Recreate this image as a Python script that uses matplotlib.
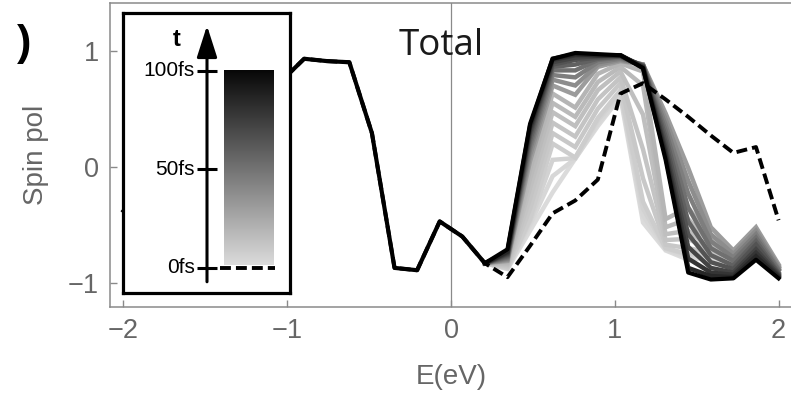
import numpy as np
import matplotlib
matplotlib.use("Agg")
import matplotlib.pyplot as plt
from matplotlib.colors import LinearSegmentedColormap

plt.rcParams['font.family'] = ['Liberation Sans', 'DejaVu Sans']

# Energy grid (eV)
energy = np.linspace(-2, 2, 30)

# Spin polarisation at the final time (100 fs)
spin_final = [-0.38, -0.55, -0.20, 0.15, 0.45, 0.62, 0.70, 0.74, 0.93, 0.91,
              0.90, 0.29, -0.87, -0.89, -0.47, -0.60, -0.83, -0.71, 0.37, 0.93,
              0.98, 0.97, 0.96, 0.85, 0.06, -0.91, -0.97, -0.96, -0.80, -0.96]

# Spin polarisation at t = 0
spin_initial = [-0.81, -0.70, -0.40, 0.00, 0.35, 0.55, 0.68, 0.74, 0.93, 0.91,
                0.90, 0.29, -0.87, -0.89, -0.47, -0.60, -0.83, -0.95, -0.68, -0.40,
                -0.29, -0.11, 0.63, 0.72, 0.58, 0.43, 0.27, 0.12, 0.17, -0.46]

# Intermediate snapshots (early -> late), for E >= 0.2 eV (index 16 onward)
split_index = 16
spin_snapshots = [
    [-0.83, -0.88, -0.55, -0.22, 0.07, 0.35, 0.60, -0.48, -0.72, -0.80, -0.78, -0.85, -0.68, -0.88],
    [-0.83, -0.875, -0.50, -0.08, 0.07, 0.37, 0.62, -0.42, -0.71, -0.78, -0.77, -0.85, -0.67, -0.88],
    [-0.83, -0.872, -0.47, 0.06, 0.075, 0.40, 0.64, -0.36, -0.70, -0.76, -0.76, -0.84, -0.66, -0.88],
    [-0.83, -0.87, -0.45, 0.20, 0.08, 0.42, 0.66, -0.30, -0.70, -0.75, -0.76, -0.84, -0.66, -0.88],
    [-0.83, -0.86, -0.36, 0.29, 0.17, 0.50, 0.72, -0.10, -0.67, -0.70, -0.74, -0.83, -0.64, -0.87],
    [-0.83, -0.85, -0.27, 0.38, 0.26, 0.58, 0.77, 0.15, -0.63, -0.62, -0.72, -0.82, -0.62, -0.87],
    [-0.83, -0.84, -0.18, 0.47, 0.35, 0.66, 0.82, 0.45, -0.58, -0.55, -0.70, -0.80, -0.60, -0.86],
    [-0.83, -0.83, -0.10, 0.55, 0.43, 0.73, 0.86, 0.70, -0.52, -0.45, -0.66, -0.78, -0.58, -0.86],
    [-0.83, -0.82, -0.02, 0.63, 0.51, 0.80, 0.89, 0.82, -0.45, -0.35, -0.62, -0.76, -0.56, -0.85],
    [-0.83, -0.81, 0.05, 0.70, 0.62, 0.86, 0.91, 0.88, 0.46, -0.01, -0.52, -0.72, -0.52, -0.84],
    [-0.83, -0.80, 0.10, 0.75, 0.70, 0.88, 0.92, 0.88, 0.41, -0.12, -0.58, -0.75, -0.55, -0.86],
    [-0.83, -0.79, 0.15, 0.79, 0.77, 0.90, 0.93, 0.88, 0.36, -0.23, -0.64, -0.78, -0.58, -0.88],
    [-0.83, -0.78, 0.19, 0.83, 0.83, 0.92, 0.94, 0.87, 0.31, -0.35, -0.70, -0.81, -0.61, -0.89],
    [-0.83, -0.77, 0.23, 0.86, 0.88, 0.93, 0.95, 0.87, 0.26, -0.47, -0.76, -0.85, -0.64, -0.91],
    [-0.83, -0.76, 0.27, 0.88, 0.92, 0.94, 0.95, 0.87, 0.21, -0.58, -0.82, -0.88, -0.67, -0.92],
    [-0.83, -0.75, 0.30, 0.90, 0.94, 0.95, 0.96, 0.86, 0.16, -0.69, -0.87, -0.91, -0.71, -0.93],
    [-0.83, -0.74, 0.33, 0.92, 0.96, 0.96, 0.96, 0.86, 0.12, -0.79, -0.91, -0.93, -0.74, -0.94],
    [-0.83, -0.73, 0.35, 0.93, 0.97, 0.96, 0.96, 0.85, 0.09, -0.87, -0.94, -0.95, -0.77, -0.95],
]

# Time axis of the legend
time_ticks = [0, 50, 100]
time_labels = ['0fs', '50fs', '100fs']

xticks = [-2, -1, 0, 1, 2]
yticks = [-1, 0, 1]

# Light grey (t=0) -> black (t=100 fs)
time_cmap = LinearSegmentedColormap.from_list('time', [(0.86, 0.86, 0.86), (0.03, 0.03, 0.03)])

fig = plt.figure(figsize=(7.91, 3.97), dpi=100)
W, H = 791, 397
ax = fig.add_axes([110 / W, 1 - 306.7 / H, 682 / W, 303.7 / H])

axis_grey = '#8a8a8a'
label_grey = '#666666'

ax.axvline(0, color=axis_grey, lw=0.9, zorder=0.5)

snap_colors = [time_cmap(v) for v in np.concatenate([np.linspace(0.0, 0.18, 9),
                                                      np.linspace(0.3, 0.85, 9)])]
e_right = energy[split_index:]
for vals, c in zip(spin_snapshots, snap_colors):
    ax.plot(e_right, vals, color=c, lw=3.2, solid_joinstyle='miter', zorder=2)

ax.plot(energy, spin_initial, color='black', lw=2.8, dashes=(2.8, 1.3), zorder=3)
ax.plot(energy, spin_final, color='black', lw=3.0, zorder=4)

ax.set_xlim(-2.082, 2.082)
ax.set_ylim(-1.204, 1.41)
ax.set_xticks(xticks)
ax.set_yticks(yticks)
ax.set_xticklabels([f'\u2212{abs(v)}' if v < 0 else str(v) for v in xticks])
ax.set_yticklabels([f'\u2212{abs(v)}' if v < 0 else str(v) for v in yticks])
ax.tick_params(direction='in', length=5, width=1, color=axis_grey,
               labelsize=19.5, labelcolor=label_grey, pad=8)
for s in ax.spines.values():
    s.set_color(axis_grey)
    s.set_linewidth(1.1)

ax.set_xlabel('E(eV)', fontsize=20, color=label_grey)
ax.xaxis.set_label_coords(0.5, -0.19)
ax.set_ylabel('Spin pol', fontsize=20, color=label_grey)
ax.yaxis.set_label_coords(-0.09, 0.5)

ax.text(441 / W, 1 - 55 / H, 'Total', transform=fig.transFigure, ha='center',
        va='baseline', fontsize=26.5, color='#1a1a1a', family='Open Sans', zorder=1)
fig.text(24 / W, 1 - 44 / H, ')', ha='center', va='center', fontsize=31,
         color='black', family='Liberation Sans', fontweight='bold')

# Time legend panel
lg = fig.add_axes([123 / W, 1 - 293 / H, 167 / W, 280 / H])
lg.set_xlim(0, 1)
lg.set_ylim(-12.7, 129.4)
lg.set_xticks([])
lg.set_yticks([])
for s in lg.spines.values():
    s.set_color('black')
    s.set_linewidth(2.3)

bar = np.linspace(0, 100, 256).reshape(-1, 1)
lg.imshow(bar, cmap=time_cmap, origin='lower', aspect='auto',
          extent=(0.605, 0.90, 1.5, 100), vmin=0, vmax=100)
lg.annotate('', xy=(0.503, 123), xytext=(0.503, -7),
            arrowprops=dict(arrowstyle='-|>,head_length=0.97,head_width=0.31',
                            mutation_scale=20, lw=2.2, color='black',
                            shrinkA=0, shrinkB=0))
lg.hlines(time_ticks, 0.443, 0.563, color='black', lw=2.2)
for t, lab in zip(time_ticks, time_labels):
    lg.text(0.431, t, lab, ha='right', va='center', fontsize=15, color='black')
lg.text(0.323, 116, 't', ha='center', va='center', fontsize=17, color='black',
        fontweight='bold')
lg.plot([0.58, 0.91], [0, 0], color='black', lw=2.8, dashes=(2.8, 1.3))

fig.savefig('out.png', dpi=100)
